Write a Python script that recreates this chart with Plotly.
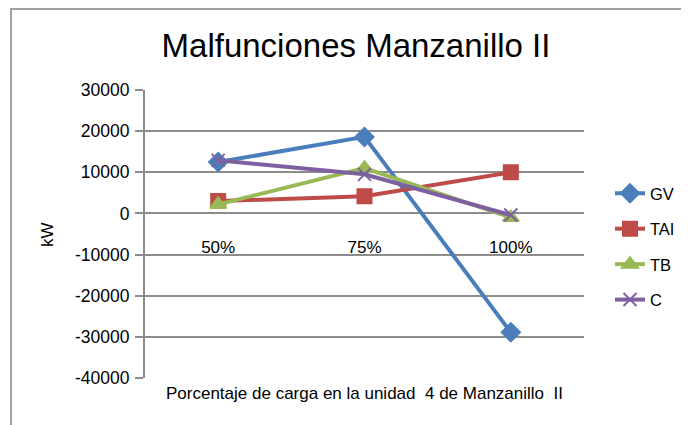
import plotly.graph_objects as go

categories = ["50%", "75%", "100%"]
gv = [12500, 18600, -28900]
tai = [3000, 4200, 10000]
tb = [2200, 11000, -1000]
c = [12900, 9500, -400]

y_ticks = [30000, 20000, 10000, 0, -10000, -20000, -30000, -40000]
y_tick_text = ["30000", "20000", "10000", "0", "-10000", "-20000", "-30000", "-40000"]

series = [
    ("GV", gv, "#4A7EBB", "diamond", 14),
    ("TAI", tai, "#BE4B48", "square", 14),
    ("TB", tb, "#98B954", "triangle-up", 14),
    ("C", c, "#7D60A0", "x-thin", 13),
]

# page body has an 8px margin; figure is offset to compensate (right side clipped)
OFF = 8
W, H = 689, 425 - OFF
L, T = 145 - OFF, 90 - OFF
pw, ph = 439, 288
R, B = W - L - pw, H - T - ph


def fx(ref_x):
    return (ref_x - 145) / pw


def fy(ref_y):
    return (378 - ref_y) / ph


fig = go.Figure()
for name, vals, col, sym, sz in series:
    fig.add_trace(go.Scatter(
        x=categories, y=vals, name=name, mode="lines+markers",
        line=dict(color=col, width=4),
        marker=dict(symbol=sym, size=sz, color=col,
                    line=dict(color=col, width=2)),
        legendgroup=name,
    ))

font = "Liberation Sans, Arial, sans-serif"
zero_frac = (0 - (-40000)) / 70000

fig.update_layout(
    width=W, height=H,
    margin=dict(l=L, r=R, t=T, b=B, pad=0),
    paper_bgcolor="white", plot_bgcolor="white",
    font=dict(family=font, size=17, color="black"),
    title=dict(text="Malfunciones Manzanillo II", x=(356 - OFF) / W, xanchor="center",
               y=1 - (45 - OFF) / H, yanchor="middle", yref="container",
               font=dict(family=font, size=33, color="black")),
    xaxis=dict(type="category", anchor="free", position=zero_frac,
               showline=False, showgrid=False, ticks="",
               ticklabelstandoff=22, tickfont=dict(size=17),
               range=[-0.5, 2.5]),
    yaxis=dict(range=[-40000, 30000], tickvals=y_ticks, ticktext=y_tick_text,
               showgrid=True, gridcolor="#8C8C8C", gridwidth=1.5,
               zeroline=True, zerolinecolor="#8C8C8C", zerolinewidth=2,
               showline=True, linecolor="#8C8C8C", linewidth=2,
               ticks="outside", ticklen=8, tickcolor="#8C8C8C", tickwidth=1.5,
               tickfont=dict(size=17.5), ticklabelstandoff=2),
    legend=dict(x=fx(610), xanchor="left", y=fy(176),
                yanchor="top", traceorder="grouped", tracegroupgap=11,
                font=dict(size=16.5), bgcolor="rgba(0,0,0,0)", itemwidth=30),
    showlegend=True,
)

fig.add_annotation(text="Porcentaje de carga en la unidad  4 de Manzanillo  II",
                   xref="paper", yref="paper", x=fx(364), y=fy(393),
                   xanchor="center", yanchor="middle", showarrow=False,
                   font=dict(size=17))
fig.add_annotation(text="kW", xref="paper", yref="paper",
                   x=fx(47), y=fy(235), textangle=-90,
                   xanchor="center", yanchor="middle", showarrow=False,
                   font=dict(size=17))
fig.add_shape(type="rect", xref="paper", yref="paper",
              x0=fx(11), x1=fx(720), y0=fy(460), y1=fy(9),
              line=dict(color="#A0A0A0", width=2), fillcolor="rgba(0,0,0,0)",
              layer="below")

fig.write_html("out.html")
